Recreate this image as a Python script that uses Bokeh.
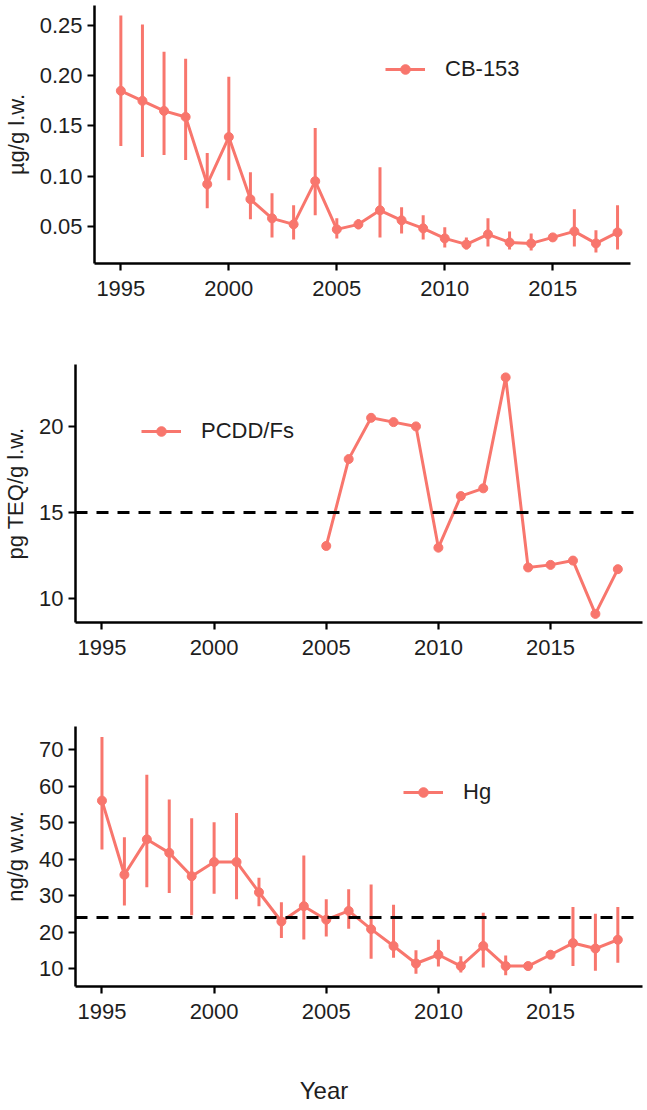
from bokeh.plotting import figure
from bokeh.layouts import column
from bokeh.models import (Span, Legend, LegendItem, FixedTicker,
                          PrintfTickFormatter, Range1d, ColumnDataSource)
from bokeh.core.properties import value
from bokeh.embed import file_html
from bokeh.resources import INLINE

# ---- data -------------------------------------------------------------
years = list(range(1995, 2019))

cb153 = [0.185, 0.175, 0.165, 0.159, 0.092, 0.139, 0.077, 0.058, 0.052, 0.095,
         0.047, 0.052, 0.066, 0.056, 0.048, 0.038, 0.032, 0.042, 0.034, 0.033,
         0.039, 0.045, 0.033, 0.044]
cb153_lo = [0.130, 0.119, 0.121, 0.116, 0.068, 0.096, 0.057, 0.039, 0.037, 0.061,
            0.038, 0.047, 0.039, 0.043, 0.037, 0.029, 0.027, 0.030, 0.027, 0.026,
            0.037, 0.030, 0.024, 0.027]
cb153_hi = [0.260, 0.251, 0.224, 0.217, 0.123, 0.199, 0.104, 0.083, 0.071, 0.148,
            0.058, 0.057, 0.109, 0.069, 0.061, 0.049, 0.039, 0.058, 0.045, 0.043,
            0.042, 0.067, 0.046, 0.071]

pcdd_years = list(range(2005, 2019))
pcdd = [13.05, 18.1, 20.5, 20.25, 20.0, 12.95, 15.95, 16.4, 22.85, 11.8,
        11.95, 12.2, 9.1, 11.7]
pcdd_limit = 15

hg = [56.0, 35.7, 45.4, 41.7, 35.3, 39.2, 39.2, 30.9, 22.9, 27.1,
      23.4, 25.8, 20.8, 16.2, 11.4, 13.8, 10.7, 16.2, 10.7, 10.7,
      13.8, 17.0, 15.5, 17.9]
hg_lo = [42.6, 27.3, 32.3, 30.7, 24.6, 30.5, 29.0, 27.1, 18.4, 18.0,
         18.8, 20.9, 12.7, 13.0, 8.6, 10.6, 8.9, 10.3, 8.2, 9.5,
         13.0, 10.7, 9.4, 11.6]
hg_hi = [73.4, 46.0, 63.1, 56.3, 51.2, 50.1, 52.6, 34.9, 28.2, 41.0,
         29.0, 31.7, 33.0, 27.5, 15.0, 17.9, 13.4, 25.3, 13.6, 11.3,
         14.6, 26.9, 25.0, 26.9]
hg_limit = 24

year_ticks = [1995, 2000, 2005, 2010, 2015]

# ---- styling ----------------------------------------------------------
RED = "#F8766D"
FONT = "Liberation Sans"
TXT = "#1e1e1e"


def panel(x_rng, y_rng, y_ticks, y_fmt, y_label, left, right, top, bottom,
          fw, fh, label_standoff):
    p = figure(frame_width=fw, frame_height=fh,
               min_border_left=left, min_border_right=right,
               min_border_top=top, min_border_bottom=bottom,
               x_range=Range1d(*x_rng), y_range=Range1d(*y_rng),
               output_backend="svg", toolbar_location=None)
    p.frame_align = False
    p.outline_line_color = None
    p.xgrid.visible = False
    p.ygrid.visible = False
    p.background_fill_color = "white"
    for ax in (p.xaxis[0], p.yaxis[0]):
        ax.axis_line_width = 2.5
        ax.axis_line_color = "black"
        ax.major_tick_line_width = 2.2
        ax.major_tick_line_color = "black"
        ax.major_tick_out = 7
        ax.major_tick_in = 0
        ax.minor_tick_line_color = None
        ax.major_label_text_font = FONT
        ax.major_label_text_font_size = "22px"
        ax.major_label_text_color = TXT
        ax.axis_label_text_font = FONT
        ax.axis_label_text_font_size = "22px"
        ax.axis_label_text_font_style = "normal"
        ax.axis_label_text_color = TXT
    p.xaxis.ticker = FixedTicker(ticks=year_ticks)
    p.xaxis.major_label_standoff = 10
    p.yaxis.ticker = FixedTicker(ticks=y_ticks)
    p.yaxis.formatter = PrintfTickFormatter(format=y_fmt)
    p.yaxis.major_label_standoff = 5
    p.yaxis.axis_label = y_label
    p.yaxis.axis_label_standoff = label_standoff
    return p


def add_series(p, xs, ys, name, legend_loc, lo=None, hi=None):
    src = ColumnDataSource(dict(x=xs, y=ys))
    if lo is not None:
        esrc = ColumnDataSource(dict(x=xs, lo=lo, hi=hi))
        p.segment(x0="x", x1="x", y0="lo", y1="hi", source=esrc,
                  line_color=RED, line_width=3)
    ln = p.line("x", "y", source=src, line_color=RED, line_width=3)
    pt = p.scatter("x", "y", source=src, size=9, fill_color=RED,
                   line_color=RED)
    leg = Legend(items=[LegendItem(label=name, renderers=[ln, pt])],
                 location=legend_loc, orientation="vertical",
                 border_line_color=None, background_fill_alpha=0,
                 padding=0, margin=0, spacing=0,
                 glyph_width=40, glyph_height=24, label_standoff=20,
                 label_text_font=FONT, label_text_font_size="22px",
                 label_text_color=TXT, label_text_baseline="middle")
    p.add_layout(leg, "center")


# CB-153 (lipid weight)
p1 = panel((1993.78, 2018.6), (0.013, 0.27), [0.05, 0.10, 0.15, 0.20, 0.25],
           "%.2f", "µg/g l.w.", 93, 18, 5, 97, 536, 258, 8)
add_series(p1, years, cb153, "CB-153", (291, 181), cb153_lo, cb153_hi)

# PCDD/Fs
p2 = panel((1993.82, 2019.1), (8.6, 23.6), [10, 15, 20],
           "%d", "pg TEQ/g l.w.", 74, 6, 4, 98, 567, 258, 8)
p2.add_layout(Span(location=pcdd_limit, dimension="width", line_color="black",
                   line_width=3, line_dash="12 9"))
add_series(p2, pcdd_years, pcdd, "PCDD/Fs", (66, 178))

# Hg (wet weight)
p3 = panel((1993.82, 2019.1), (5.1, 76.3), [10, 20, 30, 40, 50, 60, 70],
           "%d", "ng/g w.w.", 74, 6, 6, 64, 567, 260, 8)
p3.add_layout(Span(location=hg_limit, dimension="width", line_color="black",
                   line_width=3, line_dash="12 9"))
add_series(p3, years, hg, "Hg", (328, 181), hg_lo, hg_hi)

# shared x-axis title, centred under the whole column
p4 = figure(width=647, height=60, x_range=Range1d(0, 1), y_range=Range1d(0, 60),
            min_border=0, output_backend="svg", toolbar_location=None)
p4.frame_align = False
p4.axis.visible = False
p4.grid.visible = False
p4.outline_line_color = None
p4.text(x=[0.5], y=[20], text=["Year"], text_align="center",
        text_baseline="middle", text_font=value(FONT),
        text_font_size="24px", text_color=TXT)

layout = column(p1, p2, p3, p4, spacing=0)
open("out.html", "w").write(file_html(layout, INLINE))
